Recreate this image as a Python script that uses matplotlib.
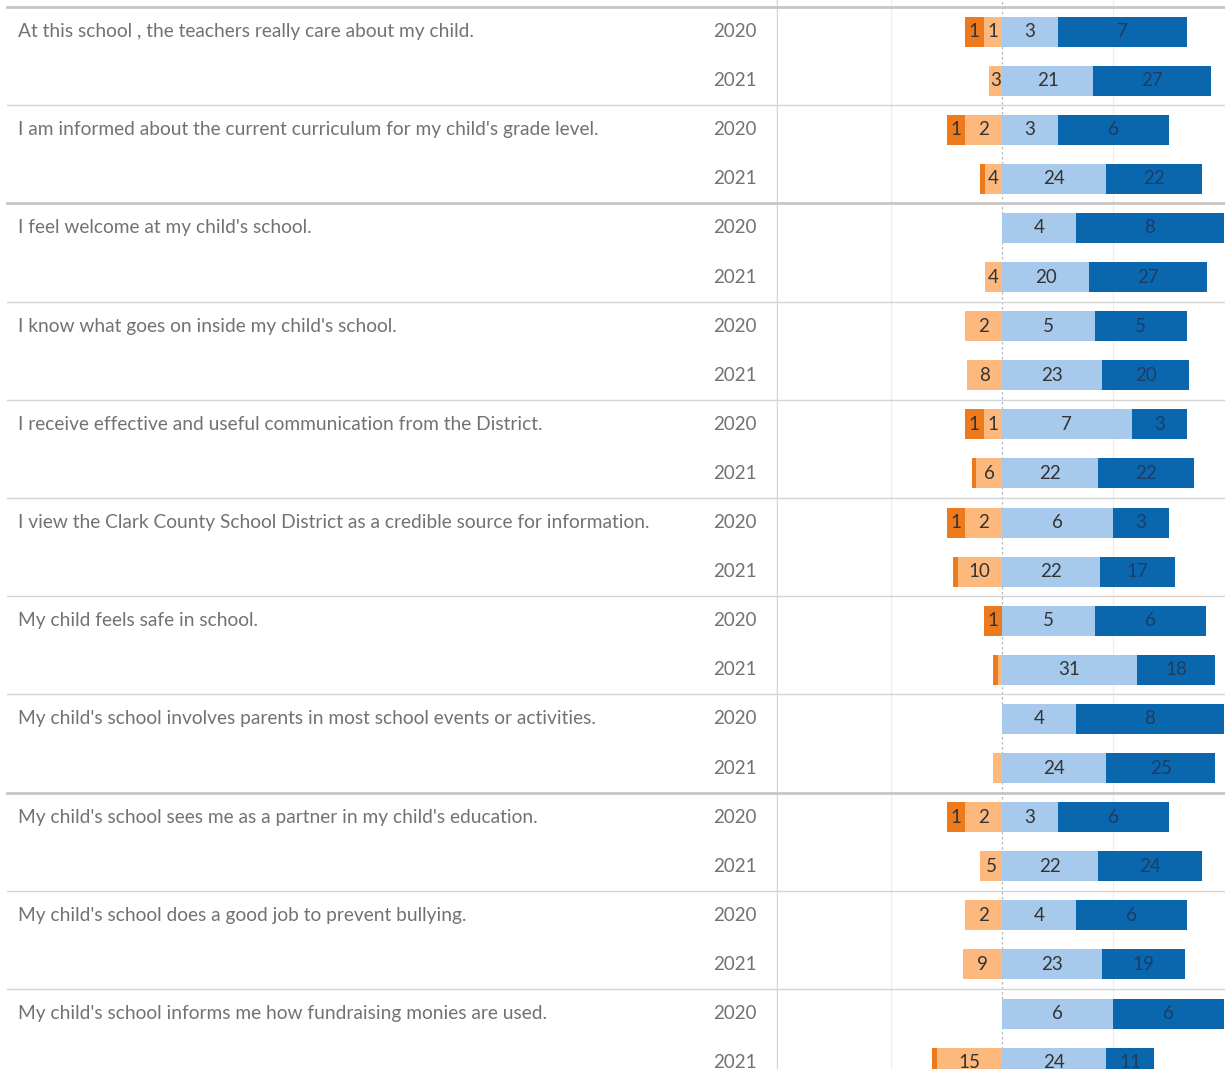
import numpy as np
import matplotlib
matplotlib.use("Agg")
import matplotlib.pyplot as plt

plt.rcParams['font.family'] = ['Lato', 'DejaVu Sans']

questions = [
    "At this school , the teachers really care about my child.",
    "I am informed about the current curriculum for my child's grade level.",
    "I feel welcome at my child's school.",
    "I know what goes on inside my child's school.",
    "I receive effective and useful communication from the District.",
    "I view the Clark County School District as a credible source for information.",
    "My child feels safe in school.",
    "My child's school involves parents in most school events or activities.",
    "My child's school sees me as a partner in my child's education.",
    "My child's school does a good job to prevent bullying.",
    "My child's school informs me how fundraising monies are used.",
]
years = ["2020", "2021"]

# counts per question, [2020, 2021]
strongly_disagree = [[1, 0], [1, 1], [0, 0], [0, 0], [1, 1], [1, 1], [1, 1], [0, 0], [1, 0], [0, 0], [0, 1]]
disagree = [[1, 3], [2, 4], [0, 4], [2, 8], [1, 6], [2, 10], [0, 1], [0, 2], [2, 5], [2, 9], [0, 15]]
agree = [[3, 21], [3, 24], [4, 20], [5, 23], [7, 22], [6, 22], [5, 31], [4, 24], [3, 22], [4, 23], [6, 24]]
strongly_agree = [[7, 27], [6, 22], [8, 27], [5, 20], [3, 22], [3, 17], [6, 18], [8, 25], [6, 24], [6, 19], [6, 11]]

colors = ['#ee7a1e', '#fdb97d', '#a7caec', '#0a67ae']
txt_col = '#727272'
line_col = '#d4d4d4'

sd = np.array(strongly_disagree, dtype=float).ravel()
d = np.array(disagree, dtype=float).ravel()
a = np.array(agree, dtype=float).ravel()
sa = np.array(strongly_agree, dtype=float).ravel()
tot = sd + d + a + sa
rows = np.arange(len(sd))

W, H = 1225, 1069
fig = plt.figure(figsize=(W / 100, H / 100), dpi=100)

row_px = 49.1
y0_px = 31.55
ylim = ((H - y0_px) / row_px, -y0_px / row_px)

ax = fig.add_axes([778 / W, 0, (W - 778) / W, 1])
axl = fig.add_axes([0, 0, 778 / W, 1])
for axx in (ax, axl):
    axx.set_ylim(*ylim)
    axx.axis('off')
ax.set_xlim(-224 / 222, 223 / 222)
axl.set_xlim(0, 778)

# grid lines
ax.axvline(0, color='#b8b8b8', lw=0.9, ls=(0, (2, 2)), zorder=1)
for gx in (-0.5, 0.5):
    ax.axvline(gx, color='#eeeeee', lw=0.9, zorder=0)
axl.axvline(777.5, color=line_col, lw=1)

n_groups = len(questions)
for g in range(n_groups + 1):
    yb = -0.5 + 2 * g
    thick = g in (0, 2, 8)
    lw = 2.0 if thick else 1.0
    c = '#c6c6c6' if thick else line_col
    ax.axhline(yb, color=c, lw=lw, zorder=1)
    axl.plot([7, 778], [yb, yb], color=c, lw=lw)

bh = 0.61
segs = [
    (-(sd + d) / tot, sd / tot, sd, colors[0]),
    (-d / tot, d / tot, d, colors[1]),
    (np.zeros_like(a), a / tot, a, colors[2]),
    (a / tot, sa / tot, sa, colors[3]),
]
for left, width, vals, col in segs:
    ax.barh(rows, width, left=left, height=bh, color=col, zorder=2)
    for r in rows:
        if width[r] >= 0.05:
            lab_col = '#1d3d63' if col == colors[3] else '#333333'
            ax.text(left[r] + width[r] / 2, r, f"{int(vals[r])}", ha='center', va='center',
                    fontsize=13.5, color=lab_col, zorder=3)

for g, q in enumerate(questions):
    axl.text(18, 2 * g, q, ha='left', va='center', fontsize=13.8, color=txt_col)
    for k, yr in enumerate(years):
        axl.text(757, 2 * g + k, yr, ha='right', va='center', fontsize=13.5, color=txt_col)

fig.savefig("out.png", dpi=100, facecolor='white')
